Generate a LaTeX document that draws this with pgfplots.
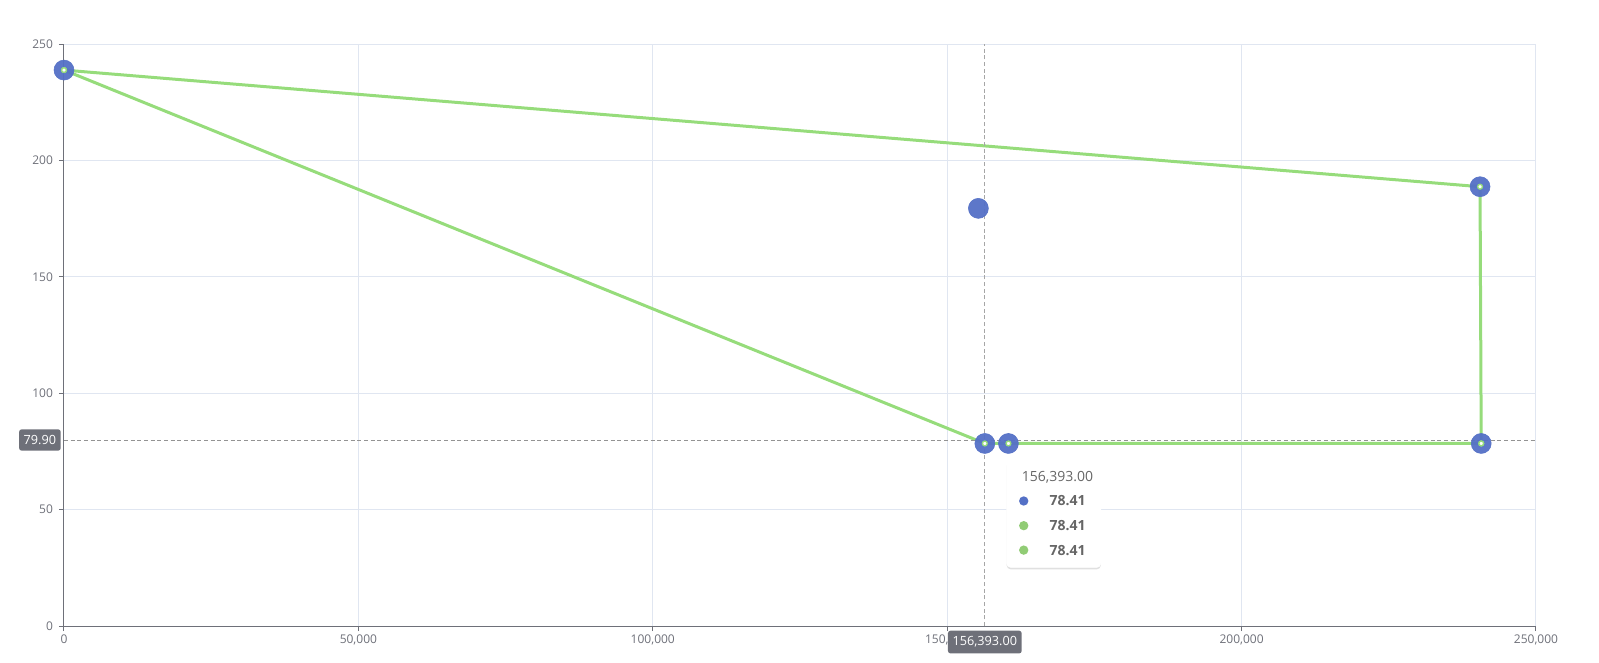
\documentclass[border=0pt]{standalone}
\usepackage{pgfplots}
\pgfplotsset{compat=1.18}
\usepackage{fontspec}
\setmainfont{Open Sans}
\usetikzlibrary{shadows}
\definecolor{bluec}{HTML}{5470C6}
\definecolor{greenc}{HTML}{96DC7B}
\definecolor{greend}{HTML}{91CC75}
\definecolor{gridc}{HTML}{E0E6F1}
\definecolor{axisc}{HTML}{6E7079}
\definecolor{txtc}{HTML}{666666}
\begin{document}
\begin{tikzpicture}[font=\fontsize{9}{11}\selectfont]
\path[use as bounding box] (-48pt,-27pt) rectangle (1151.25pt,469.5pt);
\begin{axis}[
  at={(0,0)}, anchor=south west,
  scale only axis, width=1104pt, height=436.5pt,
  xmin=0, xmax=250000, ymin=0, ymax=250,
  xtick={0,50000,100000,150000,200000,250000},
  xticklabels={0,{50,000},{100,000},{150,000},{200,000},{250,000}},
  scaled x ticks=false,
  ytick={0,50,100,150,200,250},
  yticklabels={0,50,100,150,200,250},
  axis lines*=left,
  axis line style={axisc, line width=0.75pt},
  grid=major,
  major grid style={gridc, line width=0.75pt},
  tick align=outside,
  major tick length=3.75pt,
  tick style={axisc, line width=0.75pt},
  ticklabel style={text=axisc, font=\fontsize{9}{11}\selectfont},
  yticklabel style={xshift=-1pt},
  xticklabel style={yshift=1pt},
  clip=false,
]
\addplot[only marks, mark=*, mark size=7.5pt, mark options={fill=bluec, draw=bluec}, fill opacity=0.95] coordinates {
 (0,238.8) (155300,179.4) (156393,78.41) (160400,78.41) (240500,188.7) (240700,78.41)
};
\addplot[greenc, line width=2.25pt, mark=*, mark size=1.8pt, mark options={fill=white, draw=greenc, line width=1pt}] coordinates {
 (0,238.8) (240500,188.7) (240700,78.41)
};
\addplot[greenc, line width=2.25pt, mark=*, mark size=1.8pt, mark options={fill=white, draw=greenc, line width=1pt}] coordinates {
 (0,238.8) (156393,78.41) (160400,78.41) (240700,78.41)
};
% axis pointer
\draw[gray!70, dash pattern=on 3pt off 2pt, line width=0.6pt] (axis cs:156393,0) -- (axis cs:156393,250);
\draw[gray!85, dash pattern=on 3pt off 2pt, line width=0.6pt] (axis cs:0,79.9) -- (axis cs:250000,79.9);
\node[fill=axisc, text=white, rounded corners=2pt, inner xsep=3.5pt, inner ysep=4.5pt, font=\fontsize{9.5}{11}\selectfont] at (axis cs:156393,-6.9) {156,393.00};
\node[fill=axisc, text=white, rounded corners=2pt, inner xsep=3.5pt, inner ysep=4.5pt, anchor=east, font=\fontsize{9.5}{11}\selectfont] at ([xshift=-2.25pt]axis cs:0,79.9) {79.90};
% tooltip
\filldraw[draw=white, fill=white, rounded corners=3pt, drop shadow={opacity=0.2, shadow xshift=0pt, shadow yshift=-1.5pt, fill=black!60}] (axis cs:160100,71.3) rectangle (axis cs:176100,25.2);
\node[anchor=west, text=txtc, font=\fontsize{10.5}{12}\selectfont] at (axis cs:161900,63.7) {156,393.00};
\fill[bluec] (axis cs:163000,53.7) circle (3.5pt);
\fill[greend] (axis cs:163000,43.1) circle (3.5pt);
\fill[greend] (axis cs:163000,32.6) circle (3.5pt);
\node[anchor=east, text=txtc, font=\bfseries\fontsize{10.5}{12}\selectfont] at (axis cs:174300,53.7) {78.41};
\node[anchor=east, text=txtc, font=\bfseries\fontsize{10.5}{12}\selectfont] at (axis cs:174300,43.1) {78.41};
\node[anchor=east, text=txtc, font=\bfseries\fontsize{10.5}{12}\selectfont] at (axis cs:174300,32.6) {78.41};
\end{axis}
\end{tikzpicture}
\end{document}
